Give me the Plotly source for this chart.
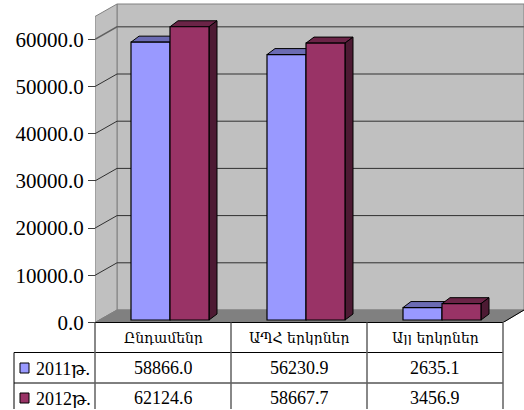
import plotly.graph_objects as go

categories = ["Ընդամենը", "ԱՊՀ երկրներ", "Այլ երկրներ"]
series_names = ["2011թ.", "2012թ."]
values_2011 = [58866.0, 56230.9, 2635.1]
values_2012 = [62124.6, 58667.7, 3456.9]
tick_values = [0, 10000, 20000, 30000, 40000, 50000, 60000]

W, H = 524, 410
X0, Y0 = 95.0, 322.5      # pixel of the chart origin
CAT_PX = 136.0
VAL_PX = 47.2 / 10000     # pixels per unit
WALL_DX, WALL_DY = 22.0, 12.5
BAR_W = 39.0
BAR_OFF_X, BAR_OFF_Y = 7.0, 2.5
DEPTH_DX, DEPTH_DY = 8.0, 6.0
BLUE, RED = "#9999FF", "#993366"
BLUE_TOP, RED_TOP, RED_SIDE, BLUE_SIDE = "#6B6BB3", "#6B2447", "#4D1A33", "#4D4D80"
SERIF = "Liberation Serif, DejaVu Serif"

dx = lambda px: px / CAT_PX
dy = lambda px: px / VAL_PX
ux = lambda px: (px - X0) / CAT_PX   # pixel column -> category units
uy = lambda py: (Y0 - py) / VAL_PX   # pixel row -> value units
px_paper = lambda px: px / W
py_paper = lambda py: 1 - py / H


def poly(points, fill, line="#000000", width=1):
    path = "M" + " L".join(f"{a},{b}" for a, b in points) + " Z"
    return dict(type="path", path=path, xref="x", yref="y", fillcolor=fill, layer="below",
                line=dict(color=line, width=width))


shapes = []
xmax = ux(W)
ymax = uy(0)
top_wall = uy(4)
wdx, wdy = dx(WALL_DX), dy(WALL_DY)
n = len(categories)

# walls and floor
shapes.append(poly([(wdx, wdy), (xmax, wdy), (xmax, top_wall), (wdx, top_wall)], "#C0C0C0", "#808080"))
shapes.append(poly([(0, 0), (wdx, wdy), (wdx, top_wall), (0, top_wall - wdy)], "#C0C0C0", "#808080"))
shapes.append(poly([(0, 0), (n, 0), (xmax, wdy), (wdx, wdy)], "#808080", "#808080"))

# gridlines
for t in tick_values[1:]:
    top = t == tick_values[-1]
    shapes.append(dict(type="path", xref="x", yref="y", layer="below",
                       path=f"M0,{t} L{wdx},{t + wdy} L{xmax},{t + wdy}",
                       line=dict(color="#606060" if top else "#303030", width=1.5 if top else 1)))

# bar positions
bw = dx(BAR_W)
base = dy(BAR_OFF_Y)
group = [i + 0.5 + dx(BAR_OFF_X) for i in range(n)]
x_2011 = [g - bw / 2 for g in group]
x_2012 = [g + bw / 2 for g in group]
ddx, ddy = dx(DEPTH_DX), dy(DEPTH_DY)


def box_faces(xc, v, top_col, side_col):
    x1, x2 = xc - bw / 2, xc + bw / 2
    t = v + base
    return [
        poly([(x1, t), (x2, t), (x2 + ddx, t + ddy), (x1 + ddx, t + ddy)], top_col),
        poly([(x2, base), (x2 + ddx, base + ddy), (x2 + ddx, t + ddy), (x2, t)], side_col),
    ]


for xc, v in zip(x_2011, values_2011):
    shapes += box_faces(xc, v, BLUE_TOP, BLUE_SIDE)
for xc, v in zip(x_2012, values_2012):
    shapes += box_faces(xc, v, RED_TOP, RED_SIDE)

fig = go.Figure()
fig.add_bar(x=x_2011, y=values_2011, base=base, width=bw, name=series_names[0],
            marker=dict(color=BLUE, line=dict(color="#000000", width=1.2)))
fig.add_bar(x=x_2012, y=values_2012, base=base, width=bw, name=series_names[1],
            marker=dict(color=RED, line=dict(color="#000000", width=1.2)))

# data table
T_Y = [322.5, 352.5, 383.0, 409.0]
T_LEFT = 14.0
T_X = [X0 + CAT_PX * i for i in range(n + 1)]
line_dark = dict(color="#000000", width=1)
line_grey = dict(color="#606060", width=1.5)


def hline(py, x_from_px, line):
    return dict(type="line", xref="paper", yref="paper", x0=px_paper(x_from_px), x1=px_paper(T_X[-1]),
                y0=py_paper(py), y1=py_paper(py), line=line, layer="above")


shapes.append(hline(T_Y[0], X0, line_dark))
shapes.append(hline(T_Y[1], T_LEFT, line_dark))
shapes.append(hline(T_Y[2], T_LEFT, line_dark))
for c in T_X:
    shapes.append(dict(type="line", xref="paper", yref="paper", x0=px_paper(c), x1=px_paper(c),
                       y0=py_paper(T_Y[0]), y1=py_paper(T_Y[3]), line=line_grey, layer="above"))
shapes.append(dict(type="line", xref="paper", yref="paper", x0=px_paper(T_LEFT), x1=px_paper(T_LEFT),
                   y0=py_paper(T_Y[1]), y1=py_paper(T_Y[3]), line=line_dark, layer="above"))
shapes.append(dict(type="line", xref="x", yref="y", x0=n, x1=xmax, y0=0, y1=wdy,
                   line=line_dark, layer="above"))

annotations = []


def text(px, py, s, size, font=SERIF, anchor="center"):
    annotations.append(dict(x=px_paper(px), y=py_paper(py), xref="paper", yref="paper", text=s,
                            showarrow=False, xanchor=anchor, yanchor="middle", height=size,
                            font=dict(family=font, size=size, color="#000000")))


for i, c in enumerate(categories):
    text(X0 + (i + 0.5) * CAT_PX, 338, c, 14, "DejaVu Serif")
for row_py, vals, name, col in zip((368, 398), (values_2011, values_2012), series_names, (BLUE, RED)):
    for i, v in enumerate(vals):
        text(X0 + (i + 0.5) * CAT_PX, row_py, f"{v:.1f}", 18)
    text(34, row_py + 1, name, 18, anchor="left")
    shapes.append(dict(type="rect", xref="paper", yref="paper", x0=px_paper(20), x1=px_paper(29),
                       y0=py_paper(row_py - 5), y1=py_paper(row_py + 5), fillcolor=col,
                       line=dict(color="#000000", width=1), layer="above"))

fig.update_layout(
    width=W, height=H, margin=dict(l=0, r=0, t=0, b=0, pad=0), showlegend=False,
    barmode="overlay", paper_bgcolor="#FFFFFF", plot_bgcolor="rgba(0,0,0,0)",
    shapes=shapes, annotations=annotations,
    xaxis=dict(domain=[X0 / W, 1], range=[0, xmax], visible=False, fixedrange=True, automargin=False),
    yaxis=dict(domain=[1 - Y0 / H, 1], range=[0, ymax], tickvals=tick_values, tickformat=".1f",
               ticks="outside", ticklen=7, tickcolor="#404040", showgrid=False, zeroline=False,
               showline=False, anchor="free", position=X0 / W, fixedrange=True, automargin=False,
               tickfont=dict(family=SERIF, size=21, color="#000000")),
)
fig.write_html("out.html", config=dict(displayModeBar=False),
               post_script="document.body.style.margin='0';")
